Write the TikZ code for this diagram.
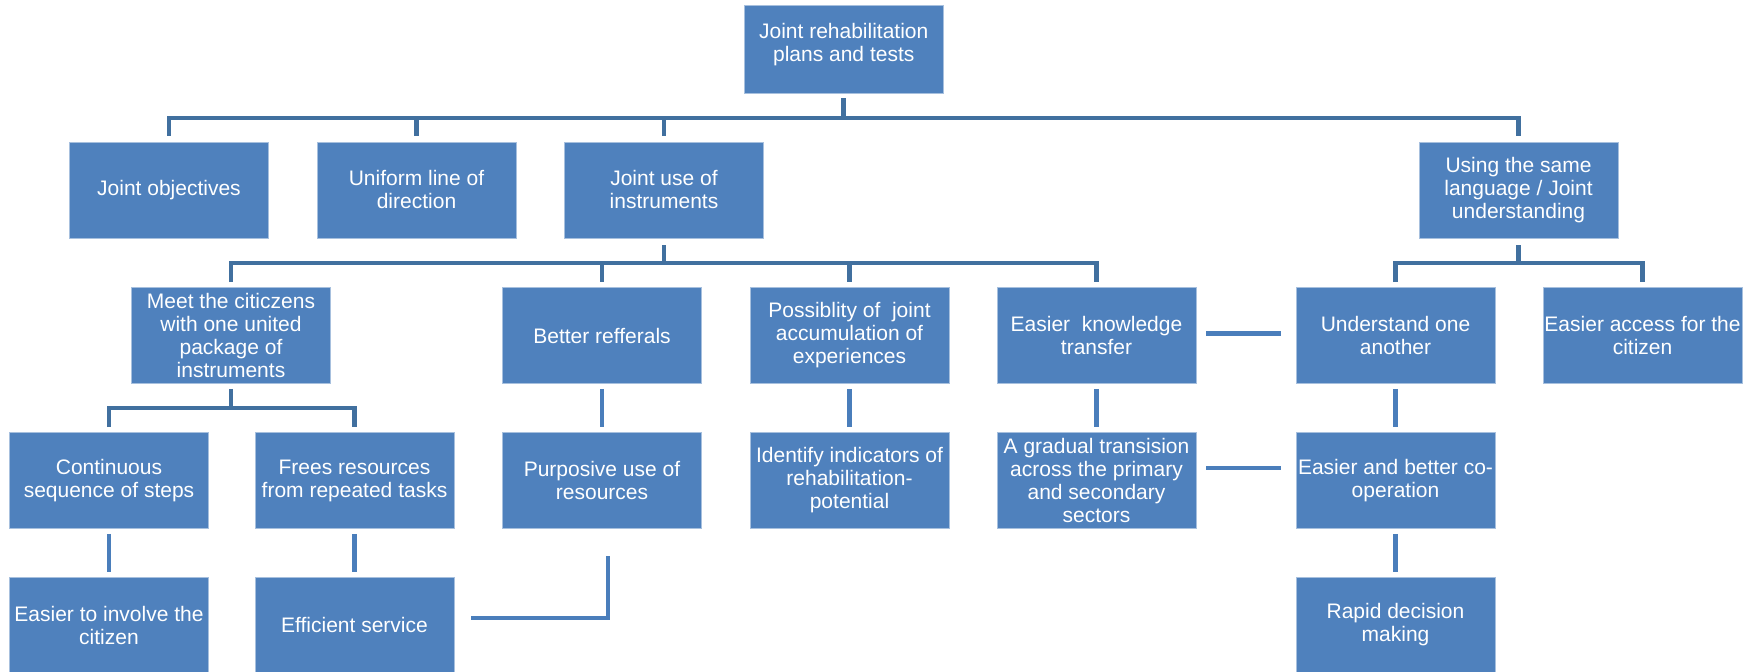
\documentclass[tikz,border=0pt]{standalone}
\usepackage{fontspec}
\setmainfont{Liberation Sans}
\begin{document}
\begin{tikzpicture}[x=0.5pt,y=-0.5pt,
  box/.style={rectangle, fill=boxfill, draw=boxedge, line width=0.4pt,
    minimum width=99.5pt, minimum height=48pt, inner sep=0pt,
    align=center, text=white, font=\fontsize{10.5pt}{11.5pt}\selectfont},
  bus/.style={draw=busblue, line width=2.3pt, line join=miter},
  link/.style={draw=lineblue, line width=2.3pt}]
\definecolor{boxfill}{HTML}{4F81BD}
\definecolor{boxedge}{HTML}{A7C0DE}
\definecolor{busblue}{HTML}{41709F}
\definecolor{lineblue}{HTML}{4A7EBB}
\useasboundingbox (0,0) rectangle (1759,672);
% row 1
\node[box, minimum height=44pt] (top) at (843.75,49) {};
\node[align=center, text=white, font=\fontsize{10.5pt}{11.5pt}\selectfont, inner sep=0pt] (toptext) at (843.75,45) {Joint rehabilitation\\plans and tests};
% row 2
\node[box] (jobj) at (169,190) {Joint objectives};
\node[box] (unif) at (416.5,190) {Uniform line of\\direction};
\node[box] (juse) at (664,190) {Joint use of\\instruments};
\node[box] (using) at (1518.5,190) {Using the same\\language / Joint\\understanding};
% row 3
\node[box] (meet) at (231,335.5) {Meet the citiczens\\with one united\\package of\\instruments};
\node[box] (better) at (602,335.5) {Better refferals};
\node[box] (poss) at (849.5,335.5) {Possiblity of\ \ joint\\accumulation of\\experiences};
\node[box] (know) at (1096.5,335.5) {Easier\ \ knowledge\\transfer};
\node[box] (under) at (1395.5,335.5) {Understand one\\another};
\node[box] (access) at (1642.5,335.5) {Easier access for the\\citizen};
% row 4
\node[box] (cont) at (109,480.5) {Continuous\\sequence of steps};
\node[box] (frees) at (354.5,480.5) {Frees resources\\from repeated tasks};
\node[box] (purp) at (602,480.5) {Purposive use of\\resources};
\node[box] (ident) at (849.5,480.5) {Identify indicators of\\rehabilitation-\\potential};
\node[box] (grad) at (1096.5,480.5) {A gradual transision\\across the primary\\and secondary\\sectors};
\node[box] (coop) at (1395.5,480.5) {Easier and better co-\\operation};
% row 5
\node[box] (easy) at (109,625) {Easier to involve the\\citizen};
\node[box] (eff) at (354.5,625) {Efficient service};
\node[box] (rapid) at (1395.5,625) {Rapid decision\\making};
% bus levels
\coordinate (b1) at (0,118);
\coordinate (b2) at (0,263);
\coordinate (b3) at (0,408);
% top bus
\draw[bus] ([yshift=-2.5pt]top.south) -- (top.south |- b1);
\draw[bus] ([yshift=3pt]jobj.north) -- (jobj.north |- b1) -- (using.north |- b1) -- ([yshift=3pt]using.north);
\draw[bus] (unif.north |- b1) -- ([yshift=3pt]unif.north);
\draw[bus] (juse.north |- b1) -- ([yshift=3pt]juse.north);
% joint use bus
\draw[bus] ([yshift=-3.5pt]juse.south) -- (juse.south |- b2);
\draw[bus] ([yshift=2.5pt]meet.north) -- (meet.north |- b2) -- (know.north |- b2) -- ([yshift=2.5pt]know.north);
\draw[bus] (better.north |- b2) -- ([yshift=2.5pt]better.north);
\draw[bus] (poss.north |- b2) -- ([yshift=2.5pt]poss.north);
% using bus
\draw[bus] ([yshift=-3.5pt]using.south) -- (using.south |- b2);
\draw[bus] ([yshift=2.5pt]under.north) -- (under.north |- b2) -- (access.north |- b2) -- ([yshift=2.5pt]access.north);
% meet bus
\draw[bus] ([yshift=-2.5pt]meet.south) -- (meet.south |- b3);
\draw[bus] ([yshift=2.5pt]cont.north) -- (cont.north |- b3) -- (frees.north |- b3) -- ([yshift=2.5pt]frees.north);
% straight links
\draw[link, shorten <=2.5pt, shorten >=2.5pt] (better) -- (purp);
\draw[link, shorten <=2.5pt, shorten >=2.5pt] (poss) -- (ident);
\draw[link, shorten <=2.5pt, shorten >=2.5pt] (know) -- (grad);
\draw[link, shorten <=2.5pt, shorten >=2.5pt] (under) -- (coop);
\draw[link, shorten <=2.5pt, shorten >=2.5pt] (coop) -- (rapid);
\draw[link, shorten <=2.5pt, shorten >=2.5pt] (cont) -- (easy);
\draw[link, shorten <=2.5pt, shorten >=2.5pt] (frees) -- (eff);
\draw[link] ([xshift=5pt,yshift=1pt]know.east) -- ([xshift=-7.25pt,yshift=1pt]under.west);
\draw[link] ([xshift=5pt,yshift=6.25pt]grad.east) -- ([xshift=-7.25pt,yshift=6.25pt]coop.west);
\draw[link] ([xshift=8.5pt,yshift=3.5pt]eff.east) -| ([xshift=3pt,yshift=-13.5pt]purp.south);
\end{tikzpicture}
\end{document}
